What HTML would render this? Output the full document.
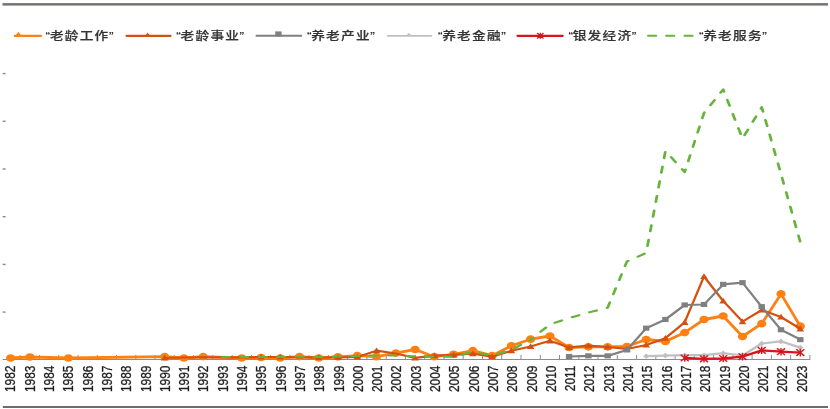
<!DOCTYPE html><html><head><meta charset="utf-8"><style>
html,body{margin:0;padding:0;background:#fff;}
body{width:830px;height:409px;overflow:hidden;position:relative;}
svg{position:absolute;left:0;top:0;filter:blur(0.35px);}
.lg{font-family:"Liberation Sans","Noto Sans CJK SC",sans-serif;font-size:11.7px;font-weight:500;fill:#333;stroke:#333;stroke-width:0.2px;}
.yr{font-family:"Liberation Sans",sans-serif;font-size:11.9px;fill:#1e1e1e;stroke:#1e1e1e;stroke-width:0.25px;}
</style></head><body>
<svg width="830" height="409" viewBox="0 0 830 409">
<rect x="2.5" y="3.1" width="825.5" height="2.5" fill="#777272"/>
<rect x="2.8" y="406" width="825.2" height="2" fill="#706c6c"/>
<rect x="2.6" y="72.9" width="3" height="1.4" fill="#8a8a8a"/>
<rect x="2.6" y="120.6" width="3" height="1.4" fill="#8a8a8a"/>
<rect x="2.6" y="168.3" width="3" height="1.4" fill="#8a8a8a"/>
<rect x="2.6" y="216.0" width="3" height="1.4" fill="#8a8a8a"/>
<rect x="2.6" y="263.7" width="3" height="1.4" fill="#8a8a8a"/>
<rect x="2.6" y="311.4" width="3" height="1.4" fill="#8a8a8a"/>
<rect x="2.6" y="359" width="807.6" height="1" fill="#8c8c8c"/>
<rect x="19.7" y="355" width="1" height="4.5" fill="#8c8c8c"/>
<rect x="39.0" y="355" width="1" height="4.5" fill="#8c8c8c"/>
<rect x="58.2" y="355" width="1" height="4.5" fill="#8c8c8c"/>
<rect x="77.5" y="355" width="1" height="4.5" fill="#8c8c8c"/>
<rect x="96.8" y="355" width="1" height="4.5" fill="#8c8c8c"/>
<rect x="116.0" y="355" width="1" height="4.5" fill="#8c8c8c"/>
<rect x="135.3" y="355" width="1" height="4.5" fill="#8c8c8c"/>
<rect x="154.6" y="355" width="1" height="4.5" fill="#8c8c8c"/>
<rect x="173.8" y="355" width="1" height="4.5" fill="#8c8c8c"/>
<rect x="193.1" y="355" width="1" height="4.5" fill="#8c8c8c"/>
<rect x="212.3" y="355" width="1" height="4.5" fill="#8c8c8c"/>
<rect x="231.6" y="355" width="1" height="4.5" fill="#8c8c8c"/>
<rect x="250.9" y="355" width="1" height="4.5" fill="#8c8c8c"/>
<rect x="270.1" y="355" width="1" height="4.5" fill="#8c8c8c"/>
<rect x="289.4" y="355" width="1" height="4.5" fill="#8c8c8c"/>
<rect x="308.6" y="355" width="1" height="4.5" fill="#8c8c8c"/>
<rect x="327.9" y="355" width="1" height="4.5" fill="#8c8c8c"/>
<rect x="347.1" y="355" width="1" height="4.5" fill="#8c8c8c"/>
<rect x="366.4" y="355" width="1" height="4.5" fill="#8c8c8c"/>
<rect x="385.7" y="355" width="1" height="4.5" fill="#8c8c8c"/>
<rect x="404.9" y="355" width="1" height="4.5" fill="#8c8c8c"/>
<rect x="424.2" y="355" width="1" height="4.5" fill="#8c8c8c"/>
<rect x="443.5" y="355" width="1" height="4.5" fill="#8c8c8c"/>
<rect x="462.7" y="355" width="1" height="4.5" fill="#8c8c8c"/>
<rect x="482.0" y="355" width="1" height="4.5" fill="#8c8c8c"/>
<rect x="501.2" y="355" width="1" height="4.5" fill="#8c8c8c"/>
<rect x="520.5" y="355" width="1" height="4.5" fill="#8c8c8c"/>
<rect x="539.8" y="355" width="1" height="4.5" fill="#8c8c8c"/>
<rect x="559.0" y="355" width="1" height="4.5" fill="#8c8c8c"/>
<rect x="578.3" y="355" width="1" height="4.5" fill="#8c8c8c"/>
<rect x="597.5" y="355" width="1" height="4.5" fill="#8c8c8c"/>
<rect x="616.8" y="355" width="1" height="4.5" fill="#8c8c8c"/>
<rect x="636.1" y="355" width="1" height="4.5" fill="#8c8c8c"/>
<rect x="655.3" y="355" width="1" height="4.5" fill="#8c8c8c"/>
<rect x="674.6" y="355" width="1" height="4.5" fill="#8c8c8c"/>
<rect x="693.8" y="355" width="1" height="4.5" fill="#8c8c8c"/>
<rect x="713.1" y="355" width="1" height="4.5" fill="#8c8c8c"/>
<rect x="732.4" y="355" width="1" height="4.5" fill="#8c8c8c"/>
<rect x="751.6" y="355" width="1" height="4.5" fill="#8c8c8c"/>
<rect x="770.9" y="355" width="1" height="4.5" fill="#8c8c8c"/>
<rect x="790.1" y="355" width="1" height="4.5" fill="#8c8c8c"/>
<rect x="809.4" y="355" width="1" height="4.5" fill="#8c8c8c"/>
<text class="yr" text-anchor="end" transform="translate(15.4,365.6) rotate(-90) scale(1,1.17)">1982</text>
<text class="yr" text-anchor="end" transform="translate(34.7,365.6) rotate(-90) scale(1,1.17)">1983</text>
<text class="yr" text-anchor="end" transform="translate(54.0,365.6) rotate(-90) scale(1,1.17)">1984</text>
<text class="yr" text-anchor="end" transform="translate(73.3,365.6) rotate(-90) scale(1,1.17)">1985</text>
<text class="yr" text-anchor="end" transform="translate(92.6,365.6) rotate(-90) scale(1,1.17)">1986</text>
<text class="yr" text-anchor="end" transform="translate(111.9,365.6) rotate(-90) scale(1,1.17)">1987</text>
<text class="yr" text-anchor="end" transform="translate(131.2,365.6) rotate(-90) scale(1,1.17)">1988</text>
<text class="yr" text-anchor="end" transform="translate(150.5,365.6) rotate(-90) scale(1,1.17)">1989</text>
<text class="yr" text-anchor="end" transform="translate(169.8,365.6) rotate(-90) scale(1,1.17)">1990</text>
<text class="yr" text-anchor="end" transform="translate(189.1,365.6) rotate(-90) scale(1,1.17)">1991</text>
<text class="yr" text-anchor="end" transform="translate(208.4,365.6) rotate(-90) scale(1,1.17)">1992</text>
<text class="yr" text-anchor="end" transform="translate(227.7,365.6) rotate(-90) scale(1,1.17)">1993</text>
<text class="yr" text-anchor="end" transform="translate(247.0,365.6) rotate(-90) scale(1,1.17)">1994</text>
<text class="yr" text-anchor="end" transform="translate(266.3,365.6) rotate(-90) scale(1,1.17)">1995</text>
<text class="yr" text-anchor="end" transform="translate(285.6,365.6) rotate(-90) scale(1,1.17)">1996</text>
<text class="yr" text-anchor="end" transform="translate(304.9,365.6) rotate(-90) scale(1,1.17)">1997</text>
<text class="yr" text-anchor="end" transform="translate(324.2,365.6) rotate(-90) scale(1,1.17)">1998</text>
<text class="yr" text-anchor="end" transform="translate(343.5,365.6) rotate(-90) scale(1,1.17)">1999</text>
<text class="yr" text-anchor="end" transform="translate(362.8,365.6) rotate(-90) scale(1,1.17)">2000</text>
<text class="yr" text-anchor="end" transform="translate(382.1,365.6) rotate(-90) scale(1,1.17)">2001</text>
<text class="yr" text-anchor="end" transform="translate(401.4,365.6) rotate(-90) scale(1,1.17)">2002</text>
<text class="yr" text-anchor="end" transform="translate(420.7,365.6) rotate(-90) scale(1,1.17)">2003</text>
<text class="yr" text-anchor="end" transform="translate(440.0,365.6) rotate(-90) scale(1,1.17)">2004</text>
<text class="yr" text-anchor="end" transform="translate(459.3,365.6) rotate(-90) scale(1,1.17)">2005</text>
<text class="yr" text-anchor="end" transform="translate(478.6,365.6) rotate(-90) scale(1,1.17)">2006</text>
<text class="yr" text-anchor="end" transform="translate(497.9,365.6) rotate(-90) scale(1,1.17)">2007</text>
<text class="yr" text-anchor="end" transform="translate(517.2,365.6) rotate(-90) scale(1,1.17)">2008</text>
<text class="yr" text-anchor="end" transform="translate(536.5,365.6) rotate(-90) scale(1,1.17)">2009</text>
<text class="yr" text-anchor="end" transform="translate(555.8,365.6) rotate(-90) scale(1,1.17)">2010</text>
<text class="yr" text-anchor="end" transform="translate(575.1,365.6) rotate(-90) scale(1,1.17)">2011</text>
<text class="yr" text-anchor="end" transform="translate(594.4,365.6) rotate(-90) scale(1,1.17)">2012</text>
<text class="yr" text-anchor="end" transform="translate(613.7,365.6) rotate(-90) scale(1,1.17)">2013</text>
<text class="yr" text-anchor="end" transform="translate(633.0,365.6) rotate(-90) scale(1,1.17)">2014</text>
<text class="yr" text-anchor="end" transform="translate(652.3,365.6) rotate(-90) scale(1,1.17)">2015</text>
<text class="yr" text-anchor="end" transform="translate(671.6,365.6) rotate(-90) scale(1,1.17)">2016</text>
<text class="yr" text-anchor="end" transform="translate(690.9,365.6) rotate(-90) scale(1,1.17)">2017</text>
<text class="yr" text-anchor="end" transform="translate(710.2,365.6) rotate(-90) scale(1,1.17)">2018</text>
<text class="yr" text-anchor="end" transform="translate(729.5,365.6) rotate(-90) scale(1,1.17)">2019</text>
<text class="yr" text-anchor="end" transform="translate(748.8,365.6) rotate(-90) scale(1,1.17)">2020</text>
<text class="yr" text-anchor="end" transform="translate(768.1,365.6) rotate(-90) scale(1,1.17)">2021</text>
<text class="yr" text-anchor="end" transform="translate(787.4,365.6) rotate(-90) scale(1,1.17)">2022</text>
<text class="yr" text-anchor="end" transform="translate(806.7,365.6) rotate(-90) scale(1,1.17)">2023</text>
<polyline points="10.6,358.0 29.9,357.0 68.4,358.0 164.7,356.6 183.9,358.0 203.2,356.6 241.7,358.0 261.0,357.5 280.2,358.0 299.5,356.6 318.8,358.0 338.0,356.9 357.3,355.7 376.5,356.7 395.8,353.1 415.1,349.5 434.3,356.7 453.6,354.3 472.8,350.7 492.1,355.7 511.4,345.8 530.6,339.2 549.9,336.0 569.1,347.5 588.4,346.9 607.7,346.9 626.9,346.5 646.2,339.5 665.4,341.5 684.7,332.6 704.0,319.5 723.2,316.0 742.5,336.5 761.7,323.7 781.0,293.9 800.3,326.2" fill="none" stroke="#FF8012" stroke-width="2.8" stroke-linejoin="round" stroke-linecap="round" />
<ellipse cx="10.6" cy="358.0" rx="4.6" ry="3.85" fill="#FF8012"/>
<ellipse cx="29.9" cy="357.0" rx="4.6" ry="3.85" fill="#FF8012"/>
<ellipse cx="68.4" cy="358.0" rx="4.6" ry="3.85" fill="#FF8012"/>
<ellipse cx="164.7" cy="356.6" rx="4.6" ry="3.85" fill="#FF8012"/>
<ellipse cx="183.9" cy="358.0" rx="4.6" ry="3.85" fill="#FF8012"/>
<ellipse cx="203.2" cy="356.6" rx="4.6" ry="3.85" fill="#FF8012"/>
<ellipse cx="241.7" cy="358.0" rx="4.6" ry="3.85" fill="#FF8012"/>
<ellipse cx="261.0" cy="357.5" rx="4.6" ry="3.85" fill="#FF8012"/>
<ellipse cx="280.2" cy="358.0" rx="4.6" ry="3.85" fill="#FF8012"/>
<ellipse cx="299.5" cy="356.6" rx="4.6" ry="3.85" fill="#FF8012"/>
<ellipse cx="318.8" cy="358.0" rx="4.6" ry="3.85" fill="#FF8012"/>
<ellipse cx="338.0" cy="356.9" rx="4.6" ry="3.85" fill="#FF8012"/>
<ellipse cx="357.3" cy="355.7" rx="4.6" ry="3.85" fill="#FF8012"/>
<ellipse cx="376.5" cy="356.7" rx="4.6" ry="3.85" fill="#FF8012"/>
<ellipse cx="395.8" cy="353.1" rx="4.6" ry="3.85" fill="#FF8012"/>
<ellipse cx="415.1" cy="349.5" rx="4.6" ry="3.85" fill="#FF8012"/>
<ellipse cx="434.3" cy="356.7" rx="4.6" ry="3.85" fill="#FF8012"/>
<ellipse cx="453.6" cy="354.3" rx="4.6" ry="3.85" fill="#FF8012"/>
<ellipse cx="472.8" cy="350.7" rx="4.6" ry="3.85" fill="#FF8012"/>
<ellipse cx="492.1" cy="355.7" rx="4.6" ry="3.85" fill="#FF8012"/>
<ellipse cx="511.4" cy="345.8" rx="4.6" ry="3.85" fill="#FF8012"/>
<ellipse cx="530.6" cy="339.2" rx="4.6" ry="3.85" fill="#FF8012"/>
<ellipse cx="549.9" cy="336.0" rx="4.6" ry="3.85" fill="#FF8012"/>
<ellipse cx="569.1" cy="347.5" rx="4.6" ry="3.85" fill="#FF8012"/>
<ellipse cx="588.4" cy="346.9" rx="4.6" ry="3.85" fill="#FF8012"/>
<ellipse cx="607.7" cy="346.9" rx="4.6" ry="3.85" fill="#FF8012"/>
<ellipse cx="626.9" cy="346.5" rx="4.6" ry="3.85" fill="#FF8012"/>
<ellipse cx="646.2" cy="339.5" rx="4.6" ry="3.85" fill="#FF8012"/>
<ellipse cx="665.4" cy="341.5" rx="4.6" ry="3.85" fill="#FF8012"/>
<ellipse cx="684.7" cy="332.6" rx="4.6" ry="3.85" fill="#FF8012"/>
<ellipse cx="704.0" cy="319.5" rx="4.6" ry="3.85" fill="#FF8012"/>
<ellipse cx="723.2" cy="316.0" rx="4.6" ry="3.85" fill="#FF8012"/>
<ellipse cx="742.5" cy="336.5" rx="4.6" ry="3.85" fill="#FF8012"/>
<ellipse cx="761.7" cy="323.7" rx="4.6" ry="3.85" fill="#FF8012"/>
<ellipse cx="781.0" cy="293.9" rx="4.6" ry="3.85" fill="#FF8012"/>
<ellipse cx="800.3" cy="326.2" rx="4.6" ry="3.85" fill="#FF8012"/>
<polyline points="164.7,358.0 183.9,357.5 203.2,357.3 222.5,357.3 241.7,357.3 261.0,357.0 280.2,357.0 299.5,357.3 318.8,357.5 338.0,357.3 357.3,357.0 376.5,350.7 395.8,353.5 415.1,357.9 434.3,355.7 453.6,354.9 472.8,353.7 492.1,356.7 511.4,350.7 530.6,346.5 549.9,340.8 569.1,347.5 588.4,345.7 607.7,347.0 626.9,349.0 646.2,345.0 665.4,338.2 684.7,322.3 704.0,276.5 723.2,301.0 742.5,321.6 761.7,310.0 781.0,317.0 800.3,328.8" fill="none" stroke="#D3500F" stroke-width="2.2" stroke-linejoin="round" stroke-linecap="round" />
<path d="M160.9,360.6 L164.7,354.8 L168.5,360.6Z" fill="#D3500F"/>
<path d="M257.2,359.6 L261.0,353.8 L264.8,359.6Z" fill="#D3500F"/>
<path d="M276.4,359.6 L280.2,353.8 L284.0,359.6Z" fill="#D3500F"/>
<path d="M315.0,360.1 L318.8,354.3 L322.6,360.1Z" fill="#D3500F"/>
<path d="M334.2,359.9 L338.0,354.1 L341.8,359.9Z" fill="#D3500F"/>
<path d="M353.5,359.6 L357.3,353.8 L361.1,359.6Z" fill="#D3500F"/>
<path d="M372.7,353.3 L376.5,347.5 L380.3,353.3Z" fill="#D3500F"/>
<path d="M411.3,360.5 L415.1,354.7 L418.9,360.5Z" fill="#D3500F"/>
<path d="M430.5,358.3 L434.3,352.5 L438.1,358.3Z" fill="#D3500F"/>
<path d="M449.8,357.5 L453.6,351.7 L457.4,357.5Z" fill="#D3500F"/>
<path d="M469.0,356.3 L472.8,350.5 L476.6,356.3Z" fill="#D3500F"/>
<path d="M488.3,359.3 L492.1,353.5 L495.9,359.3Z" fill="#D3500F"/>
<path d="M507.6,353.3 L511.4,347.5 L515.2,353.3Z" fill="#D3500F"/>
<path d="M526.8,349.1 L530.6,343.3 L534.4,349.1Z" fill="#D3500F"/>
<path d="M546.1,343.4 L549.9,337.6 L553.7,343.4Z" fill="#D3500F"/>
<path d="M565.3,350.1 L569.1,344.3 L572.9,350.1Z" fill="#D3500F"/>
<path d="M584.6,348.3 L588.4,342.5 L592.2,348.3Z" fill="#D3500F"/>
<path d="M603.9,349.6 L607.7,343.8 L611.5,349.6Z" fill="#D3500F"/>
<path d="M623.1,351.6 L626.9,345.8 L630.7,351.6Z" fill="#D3500F"/>
<path d="M642.4,347.6 L646.2,341.8 L650.0,347.6Z" fill="#D3500F"/>
<path d="M661.6,340.8 L665.4,335.0 L669.2,340.8Z" fill="#D3500F"/>
<path d="M680.9,324.9 L684.7,319.1 L688.5,324.9Z" fill="#D3500F"/>
<path d="M700.2,279.1 L704.0,273.3 L707.8,279.1Z" fill="#D3500F"/>
<path d="M719.4,303.6 L723.2,297.8 L727.0,303.6Z" fill="#D3500F"/>
<path d="M738.7,324.2 L742.5,318.4 L746.3,324.2Z" fill="#D3500F"/>
<path d="M757.9,312.6 L761.7,306.8 L765.5,312.6Z" fill="#D3500F"/>
<path d="M777.2,319.6 L781.0,313.8 L784.8,319.6Z" fill="#D3500F"/>
<path d="M796.5,331.4 L800.3,325.6 L804.1,331.4Z" fill="#D3500F"/>
<polyline points="569.1,356.5 588.4,355.9 607.7,355.9 626.9,350.0 646.2,328.2 665.4,319.5 684.7,305.0 704.0,304.5 723.2,284.4 742.5,282.6 761.7,306.7 781.0,329.8 800.3,339.6" fill="none" stroke="#808080" stroke-width="2.2" stroke-linejoin="round" stroke-linecap="round" />
<rect x="565.9" y="353.9" width="6.4" height="5.1" fill="#808080"/>
<rect x="585.2" y="353.3" width="6.4" height="5.1" fill="#808080"/>
<rect x="604.5" y="353.3" width="6.4" height="5.1" fill="#808080"/>
<rect x="623.7" y="347.4" width="6.4" height="5.1" fill="#808080"/>
<rect x="643.0" y="325.6" width="6.4" height="5.1" fill="#808080"/>
<rect x="662.2" y="316.9" width="6.4" height="5.1" fill="#808080"/>
<rect x="681.5" y="302.4" width="6.4" height="5.1" fill="#808080"/>
<rect x="700.8" y="301.9" width="6.4" height="5.1" fill="#808080"/>
<rect x="720.0" y="281.8" width="6.4" height="5.1" fill="#808080"/>
<rect x="739.3" y="280.1" width="6.4" height="5.1" fill="#808080"/>
<rect x="758.5" y="304.1" width="6.4" height="5.1" fill="#808080"/>
<rect x="777.8" y="327.2" width="6.4" height="5.1" fill="#808080"/>
<rect x="797.1" y="337.1" width="6.4" height="5.1" fill="#808080"/>
<polyline points="646.2,356.2 665.4,355.6 684.7,355.2 704.0,355.2 723.2,353.2 742.5,355.5 761.7,343.5 781.0,341.4 800.3,347.6" fill="none" stroke="#C0C0C0" stroke-width="2.2" stroke-linejoin="round" stroke-linecap="round" />
<path d="M643.1,356.2 L646.2,353.4 L649.3,356.2 L646.2,359.0Z" fill="#C0C0C0"/>
<path d="M662.3,355.6 L665.4,352.8 L668.5,355.6 L665.4,358.4Z" fill="#C0C0C0"/>
<path d="M681.6,355.2 L684.7,352.4 L687.8,355.2 L684.7,358.0Z" fill="#C0C0C0"/>
<path d="M700.9,355.2 L704.0,352.4 L707.1,355.2 L704.0,358.0Z" fill="#C0C0C0"/>
<path d="M720.1,353.2 L723.2,350.4 L726.3,353.2 L723.2,356.0Z" fill="#C0C0C0"/>
<path d="M739.4,355.5 L742.5,352.7 L745.6,355.5 L742.5,358.3Z" fill="#C0C0C0"/>
<path d="M758.6,343.5 L761.7,340.7 L764.8,343.5 L761.7,346.3Z" fill="#C0C0C0"/>
<path d="M777.9,341.4 L781.0,338.6 L784.1,341.4 L781.0,344.2Z" fill="#C0C0C0"/>
<path d="M797.2,347.6 L800.3,344.8 L803.4,347.6 L800.3,350.4Z" fill="#C0C0C0"/>
<polyline points="684.7,358.0 704.0,358.8 723.2,358.5 742.5,356.6 761.7,350.3 781.0,351.7 800.3,352.6" fill="none" stroke="#D8141C" stroke-width="2.3" stroke-linejoin="round" stroke-linecap="round" />
<path d="M680.7,354.7 L688.7,361.3 M680.7,361.3 L688.7,354.7 M684.7,354.2 L684.7,361.8" stroke="#D8141C" stroke-width="1.45" fill="none"/>
<path d="M700.0,355.5 L708.0,362.1 M700.0,362.1 L708.0,355.5 M704.0,355.0 L704.0,362.6" stroke="#D8141C" stroke-width="1.45" fill="none"/>
<path d="M719.2,355.2 L727.2,361.8 M719.2,361.8 L727.2,355.2 M723.2,354.7 L723.2,362.3" stroke="#D8141C" stroke-width="1.45" fill="none"/>
<path d="M738.5,353.3 L746.5,359.9 M738.5,359.9 L746.5,353.3 M742.5,352.8 L742.5,360.4" stroke="#D8141C" stroke-width="1.45" fill="none"/>
<path d="M757.7,347.0 L765.7,353.6 M757.7,353.6 L765.7,347.0 M761.7,346.5 L761.7,354.1" stroke="#D8141C" stroke-width="1.45" fill="none"/>
<path d="M777.0,348.4 L785.0,355.0 M777.0,355.0 L785.0,348.4 M781.0,347.9 L781.0,355.5" stroke="#D8141C" stroke-width="1.45" fill="none"/>
<path d="M796.3,349.3 L804.3,355.9 M796.3,355.9 L804.3,349.3 M800.3,348.8 L800.3,356.4" stroke="#D8141C" stroke-width="1.45" fill="none"/>
<g transform="scale(1.25,1)"><polyline points="177.97,357.0 193.38,357.0 208.78,357.0 224.19,357.0 239.60,356.6 255.01,357.0 270.42,356.5 285.82,356.0 301.23,355.5 316.64,355.5 332.05,356.4 347.46,356.7 362.86,356.7 378.27,351.9 393.68,355.5 409.09,350.0 424.50,339.5" fill="none" stroke="#66B33C" stroke-width="2.2" stroke-linejoin="round" stroke-linecap="round" stroke-dasharray="6.0 8.8" stroke-dashoffset="0.40"/><polyline points="424.50,339.5 439.90,324.5 455.31,318.0 470.72,312.6 486.13,307.7 501.54,261.5 516.94,253.0 532.35,151.0 547.76,172.0 563.17,113.0 578.58,89.5 593.98,138.6 609.39,107.2 624.80,174.0 640.21,242.0" fill="none" stroke="#66B33C" stroke-width="2.2" stroke-linejoin="round" stroke-linecap="round" stroke-dasharray="6.0 8.8" stroke-dashoffset="3.73"/></g>
<line x1="14.8" y1="35.8" x2="41" y2="35.8" stroke="#FF8012" stroke-width="2.2" stroke-linecap="round"/>
<path d="M14.5,36.8 L18.5,31.8 L20.8,35 L20.8,36.8Z" fill="#FF8012"/>
<line x1="126.5" y1="35.8" x2="170.6" y2="35.8" stroke="#D3500F" stroke-width="2.2" stroke-linecap="round"/>
<path d="M145.4,35.5 L147.6,32.6 L149.8,35.5Z" fill="#D3500F"/>
<line x1="256.5" y1="35.8" x2="301.3" y2="35.8" stroke="#808080" stroke-width="2" stroke-linecap="round"/>
<rect x="275.2" y="31.4" width="6.4" height="5" fill="#808080"/>
<line x1="387.6" y1="35.8" x2="431.3" y2="35.8" stroke="#C0C0C0" stroke-width="1.8" stroke-linecap="round"/>
<path d="M406.4,35.5 L408.9,32.8 L411.4,35.5Z" fill="#C0C0C0"/>
<line x1="517.5" y1="35.8" x2="562.7" y2="35.8" stroke="#D8141C" stroke-width="2.2" stroke-linecap="round"/>
<path d="M537.1,33.1 L543.5,38.5 M537.1,38.5 L543.5,33.1 M540.3,32.8 L540.3,38.8" stroke="#D8141C" stroke-width="1.3" fill="none"/>
<line x1="648.0" y1="35.8" x2="656.1" y2="35.8" stroke="#66B33C" stroke-width="2" stroke-linecap="round"/>
<line x1="666.1" y1="35.8" x2="674.2" y2="35.8" stroke="#66B33C" stroke-width="2" stroke-linecap="round"/>
<line x1="684.5" y1="35.8" x2="692.6" y2="35.8" stroke="#66B33C" stroke-width="2" stroke-linecap="round"/>
<text class="lg" transform="scale(1.17,1)" x="38.97 42.65 55.38 68.12 80.85 93.08" y="39.7">“老龄工作”</text>
<text class="lg" transform="scale(1.17,1)" x="150.68 154.36 167.09 179.83 192.56 204.79" y="39.7">“老龄事业”</text>
<text class="lg" transform="scale(1.17,1)" x="262.31 265.98 278.72 291.45 304.19 316.41" y="39.7">“养老产业”</text>
<text class="lg" transform="scale(1.17,1)" x="374.27 377.95 390.68 403.42 416.15 428.38" y="39.7">“养老金融”</text>
<text class="lg" transform="scale(1.17,1)" x="485.81 489.49 502.22 514.96 527.69 539.91" y="39.7">“银发经济”</text>
<text class="lg" transform="scale(1.17,1)" x="597.35 601.03 613.76 626.50 639.23 651.45" y="39.7">“养老服务”</text>
</svg></body></html>
